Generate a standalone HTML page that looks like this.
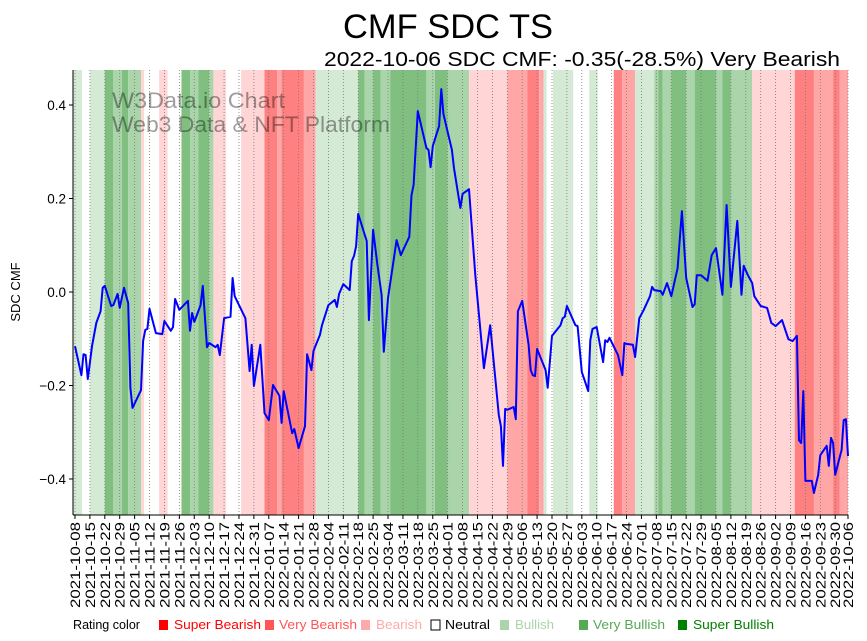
<!DOCTYPE html>
<html><head><meta charset="utf-8"><style>
body{margin:0;background:#fff;}
svg{display:block;font-family:"Liberation Sans","DejaVu Sans",sans-serif;}
</style></head><body>
<svg id="chart" width="867" height="641" viewBox="0 0 867 641" xmlns="http://www.w3.org/2000/svg">
<text x="448" y="38" text-anchor="middle" font-size="34" textLength="210" lengthAdjust="spacingAndGlyphs">CMF SDC TS</text>
<text x="840" y="66" text-anchor="end" font-size="20" textLength="516" lengthAdjust="spacingAndGlyphs">2022-10-06 SDC CMF: -0.35(-28.5%) Very Bearish</text>
<g id="bands"></g>
<g id="grid"></g>
<text x="112" y="108" font-size="22" fill="#000" fill-opacity="0.38" textLength="173" lengthAdjust="spacingAndGlyphs">W3Data.io Chart</text>
<text x="112" y="132" font-size="22" fill="#000" fill-opacity="0.38" textLength="278" lengthAdjust="spacingAndGlyphs">Web3 Data &amp; NFT Platform</text>
<g id="series"></g>
<g id="axes"></g>
<text transform="translate(20,292) rotate(-90)" text-anchor="middle" font-size="13">SDC CMF</text>
<g id="legend" font-size="13">
<text x="73" y="629" textLength="67" lengthAdjust="spacingAndGlyphs">Rating color</text>
</g>
</svg>
<script>
const bandStarts=[-1,3.3,7,14,18,22,25,31,32.5,39.5,43.5,50,54,58,63,65,71,78,89,95,97,107.5,113,133,136,140,143.5,148,165,169,175,185,203,212.5,218,220,221.5,224.5,234,241.5,245.5,253,257,263,272,274,276,280,287,291,301,304,308,318,338,347,356,359];
const bandRatings=["B","N","B","SB","VB","SB","VB","Be","N","Be","N","SB","VB","SB","VB","Be","N","Be","SBe","VBe","SBe","VBe","B","SB","VB","SB","VB","SB","VB","SB","VB","Be","VBe","SBe","VBe","B","N","B","N","B","N","SBe","VBe","B","VB","SB","VB","SB","VB","SB","VB","SB","VB","Be","SBe","VBe","SBe","VBe"];
const bandEndDay=364;
const days=[0,3,4,5,6,8,10,12,13,14,17,18,20,21,23,25,26,27,31,32,33,34,35,38,41,42,45,46,47,49,53,54,55,56,59,60,62,63,66,67,68,70,73,74,75,77,80,82,83,84,87,89,91,93,96,97,98,102,103,105,108,109,111,112,115,116,119,122,123,124,126,129,130,131,132,133,137,138,140,142,144,145,147,151,153,157,158,159,161,165,166,167,168,171,172,173,177,178,180,181,182,185,188,192,195,199,200,201,202,203,206,207,208,210,213,214,215,216,217,221,222,224,228,229,230,231,235,236,238,241,242,243,245,248,249,250,251,255,257,258,259,262,263,265,267,270,271,272,275,276,278,280,283,285,287,290,291,292,294,297,299,301,304,306,308,311,313,314,316,318,319,322,325,327,329,332,335,337,339,340,341,342,343,346,347,349,350,353,354,355,356,357,360,361,362,363];
const cmfValues=[-0.116,-0.178,-0.133,-0.135,-0.186,-0.116,-0.066,-0.041,0.009,0.013,-0.030,-0.028,-0.004,-0.034,0.009,-0.024,-0.205,-0.248,-0.210,-0.105,-0.081,-0.079,-0.036,-0.088,-0.090,-0.062,-0.083,-0.075,-0.015,-0.038,-0.019,-0.083,-0.045,-0.064,-0.028,0.013,-0.118,-0.109,-0.118,-0.113,-0.135,-0.056,-0.053,0.030,-0.009,-0.028,-0.056,-0.169,-0.113,-0.201,-0.113,-0.259,-0.274,-0.199,-0.222,-0.280,-0.212,-0.302,-0.293,-0.334,-0.287,-0.133,-0.167,-0.126,-0.092,-0.071,-0.028,-0.017,-0.032,-0.004,0.017,0.004,0.066,0.077,0.098,0.167,0.109,-0.060,0.133,0.058,-0.006,-0.128,-0.013,0.111,0.079,0.118,0.207,0.229,0.387,0.308,0.304,0.267,0.312,0.355,0.434,0.381,0.304,0.265,0.207,0.180,0.210,0.220,0.036,-0.163,-0.071,-0.263,-0.287,-0.372,-0.250,-0.252,-0.246,-0.272,-0.041,-0.019,-0.113,-0.167,-0.178,-0.180,-0.122,-0.167,-0.205,-0.094,-0.071,-0.056,-0.053,-0.030,-0.071,-0.073,-0.171,-0.212,-0.103,-0.079,-0.075,-0.150,-0.103,-0.107,-0.098,-0.135,-0.178,-0.109,-0.111,-0.113,-0.139,-0.056,-0.039,-0.009,0.011,0.004,0.002,-0.006,0.019,-0.009,0.051,0.173,0.030,-0.032,-0.026,0.036,0.036,0.024,0.079,0.094,-0.006,0.186,0.011,0.152,-0.006,0.056,0.036,0.019,-0.009,-0.030,-0.034,-0.066,-0.073,-0.060,-0.101,-0.105,-0.094,-0.317,-0.323,-0.212,-0.404,-0.404,-0.430,-0.391,-0.349,-0.329,-0.372,-0.312,-0.323,-0.391,-0.338,-0.274,-0.272,-0.351];
const yTicks=[-0.4,-0.2,0.0,0.2,0.4];
const yTickLabels=["−0.4","−0.2","0.0","0.2","0.4"];
const startDate="2021-10-08";
const lastDateLabel="2022-10-06";
const legendLabels=["Super Bearish","Very Bearish","Bearish","Neutral","Bullish","Very Bullish","Super Bullish"];
const legendColors=["#ff0000","#ff5555","#ffaaaa","#ffffff","#aad4aa","#55aa55","#008000"];

const NS="http://www.w3.org/2000/svg";
const L=73,R=848,T=70,B=515;
const X=d=>75+d*(773/363);
const Y=v=>292-v*467.5;
const bandColor={SBe:"#ff8080",VBe:"#ffa6a6",Be:"#ffd5d5",N:"#ffffff",B:"#d5ead5",VB:"#aad4aa",SB:"#80bf80"};
function mk(tag,attrs,parent){const e=document.createElementNS(NS,tag);for(const k in attrs)e.setAttribute(k,attrs[k]);parent.appendChild(e);return e;}

const bands=document.getElementById('bands');
for(let i=0;i<bandStarts.length;i++){
  const s=Math.max(L,X(bandStarts[i]));
  const e=Math.min(R,X(i+1<bandStarts.length?bandStarts[i+1]:bandEndDay));
  const r=mk('rect',{x:s,y:T,width:Math.max(0,e-s),height:B-T,fill:bandColor[bandRatings[i]]},bands);
  
  
}

const grid=document.getElementById('grid');
const axes=document.getElementById('axes');
const sd=new Date(startDate+"T00:00:00Z");
const tickDays=[];const tickLabels=[];
for(let k=0;k*7<=357;k++){const d=new Date(sd.getTime()+k*7*86400000);tickDays.push(k*7);tickLabels.push(d.toISOString().slice(0,10));}
tickDays.push(363);tickLabels.push(lastDateLabel);
tickDays.forEach((d,i)=>{
  const x=X(d);
  const g=mk('line',{x1:x,y1:T,x2:x,y2:B,stroke:"#777",'stroke-width':0.8,'stroke-dasharray':"1,2"},grid);
  
  
  const t=mk('line',{x1:x,y1:B,x2:x,y2:B+4,stroke:"#000",'stroke-width':1},axes);
  
  
  const lb=mk('text',{transform:`translate(${x+5},${B+7}) rotate(-90)`,'text-anchor':'end','font-size':14,textLength:86,lengthAdjust:'spacingAndGlyphs'},axes);
  lb.textContent=tickLabels[i];
  
  
});
yTicks.forEach((v,i)=>{
  const y=Y(v);
  const t=mk('line',{x1:L-4,y1:y,x2:L,y2:y,stroke:"#000",'stroke-width':1},axes);
  
  
  const lb=mk('text',{x:L-7,y:y+5,'text-anchor':'end','font-size':13.5},axes);
  lb.textContent=yTickLabels[i];
  
  
});
const ax1=mk('line',{x1:L,y1:T,x2:L,y2:B,stroke:"#000",'stroke-width':1},axes);


const ax2=mk('line',{x1:L,y1:B,x2:R,y2:B,stroke:"#000",'stroke-width':1},axes);



const series=document.getElementById('series');
const pts=days.map((d,i)=>X(d).toFixed(1)+","+Y(cmfValues[i]).toFixed(1)).join(" ");
const pl=mk('polyline',{points:pts,fill:"none",stroke:"#0000ff",'stroke-width':2,'stroke-linejoin':'round'},series);



const legend=document.getElementById('legend');
const sqX=[159,265,361,431,500,579,678];
const txX=[174,279,376,445,515,593,693];
const txW=[87,78,46,45,39,72,81];
legendLabels.forEach((lab,i)=>{
  const sq=mk('rect',{x:sqX[i],y:620,width:9,height:10,fill:legendColors[i],stroke:i===3?"#000":"none",'stroke-width':1},legend);
  
  
  const t=mk('text',{x:txX[i],y:629,fill:i===3?"#000":legendColors[i],textLength:txW[i],lengthAdjust:'spacingAndGlyphs'},legend);
  t.textContent=lab;
  
  
});
</script>
</body></html>
